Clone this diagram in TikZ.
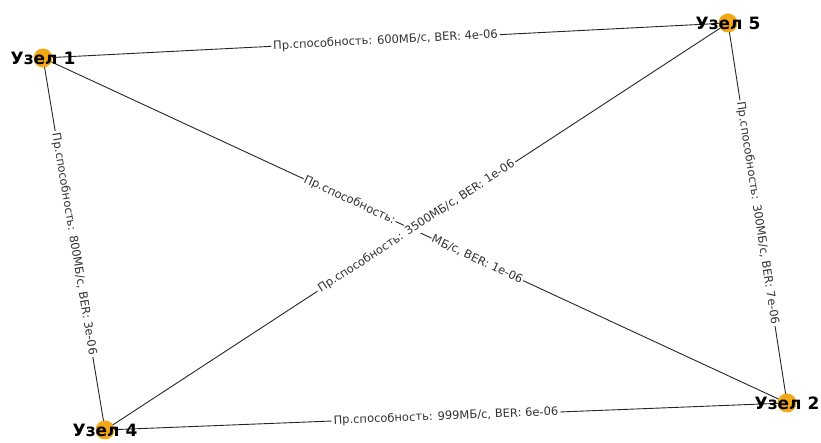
\documentclass[tikz,border=0pt]{standalone}
\usepackage{fontspec}
\setmainfont{DejaVu Sans}
\definecolor{nodeorange}{RGB}{242,168,24}
\begin{document}
\begin{tikzpicture}[x=1pt,y=1pt,
  vertex/.style={circle, fill=nodeorange, minimum size=19pt, inner sep=0pt},
  vlabel/.style={font=\fontsize{17}{17}\selectfont\bfseries, text=black, inner sep=0pt},
  edge/.style={draw=black!85, line width=0.9pt},
  etext/.style={sloped, fill=white, inner sep=2pt, font=\fontsize{11.5}{12}\selectfont, text=black!80},
  elabel/.style={midway, etext}]
\useasboundingbox (0,0) rectangle (821,443);
\coordinate (p1) at (43,385);
\coordinate (p5) at (728,420);
\coordinate (p2) at (787,40);
\coordinate (p4) at (105,13);
% edges
\draw[edge] (p1) -- (p5);
\draw[edge] (p1) -- (p4);
\draw[edge] (p1) -- (p2);
\draw[edge] (p5) -- (p2);
\draw[edge] (p4) -- (p5);
\draw[edge] (p4) -- (p2);
% edge labels
\path (p1) -- (p5) node[elabel] (e15) {Пр.способность: 600МБ/с, BER: 4e-06};
\path (p1) -- (p4) node[elabel] (e14) {Пр.способность: 800МБ/с, BER: 3e-06};
\path (p5) -- (p2) node[elabel] (e52) {Пр.способность: 300МБ/с, BER: 7e-06};
\path (p4) -- (p2) node[elabel] (e42) {Пр.способность: 999МБ/с, BER: 6e-06};
% label of edge 1-2, partly hidden by the label of edge 4-5
\path (p1) -- (p2) node[etext, pos=0.474, anchor=east, inner xsep=1pt] (e12a) {Пр.способность:}
                   node[etext, pos=0.522, anchor=west, inner xsep=1pt] (e12b) {МБ/с, BER: 1e-06};
\path (p4) -- (p5) node[elabel] (e45) {Пр.способность: 3500МБ/с, BER: 1e-06};
% vertices
\node[vertex] (n1) at (p1) {};
\node[vertex] (n5) at (p5) {};
\node[vertex] (n2) at (p2) {};
\node[vertex] (n4) at (p4) {};
\node[vlabel] (l1) at (n1) {Узел 1};
\node[vlabel] (l5) at (n5) {Узел 5};
\node[vlabel] (l2) at (n2) {Узел 2};
\node[vlabel] (l4) at (n4) {Узел 4};
\end{tikzpicture}
\end{document}
